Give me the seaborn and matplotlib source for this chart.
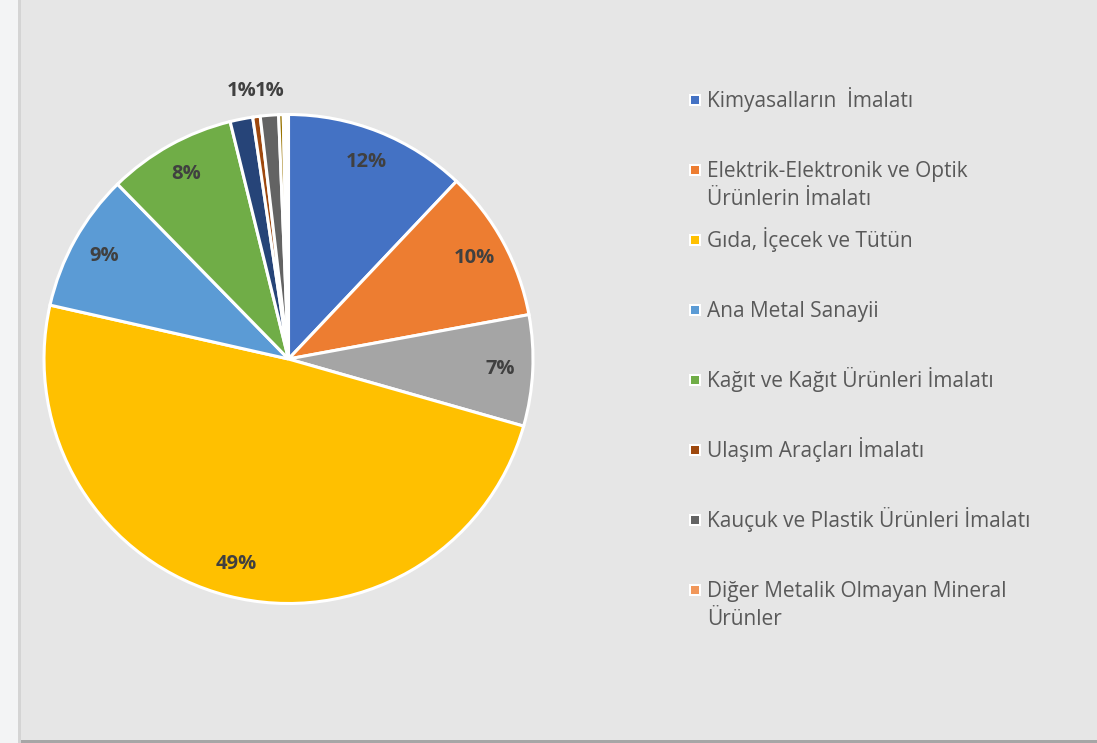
import matplotlib
matplotlib.use("Agg")
import matplotlib.pyplot as plt
from matplotlib.patches import Rectangle
import numpy as np
import seaborn as sns

# Sector shares (%) in drawing order, clockwise from 12 o'clock
slice_values = [12.0, 10.0, 7.3, 48.9, 9.1, 8.45, 1.49, 0.49, 1.2, 0.3, 0.08, 0.08, 0.08, 0.1]
slice_colors = ["#4472C4", "#ED7D31", "#A5A5A5", "#FFC000", "#5B9BD5", "#70AD47",
                "#264478", "#9E480E", "#636363", "#997300", "#255E91", "#43682B",
                "#698ED0", "#F1975A"]

# Legend entries
legend_labels = [
    "Kimyasalların  İmalatı",
    "Elektrik-Elektronik ve Optik\nÜrünlerin İmalatı",
    "Gıda, İçecek ve Tütün",
    "Ana Metal Sanayii",
    "Kağıt ve Kağıt Ürünleri İmalatı",
    "Ulaşım Araçları İmalatı",
    "Kauçuk ve Plastik Ürünleri İmalatı",
    "Diğer Metalik Olmayan Mineral\nÜrünler",
]
legend_colors = ["#4472C4", "#ED7D31", "#FFC000", "#5B9BD5", "#70AD47",
                 "#9E480E", "#636363", "#F1975A"]

sns.set_theme(style="white")
plt.rcParams["font.family"] = ["Open Sans", "DejaVu Sans"]

W, H = 1097, 743
fig = plt.figure(figsize=(W / 100, H / 100), dpi=100)
fig.patch.set_facecolor("#F3F4F5")

# chart panel (behind everything)
for rect in [((18 / W, 0), 4 / W, 1, "#D4D4D4"),
             ((21 / W, 3 / H), 1, 1, "#E6E6E6"),
             ((21 / W, 0), 1, 3 / H, "#A6A6A6")]:
    fig.patches.append(Rectangle(rect[0], rect[1], rect[2], transform=fig.transFigure,
                                 facecolor=rect[3], edgecolor="none", zorder=-5))

# pie axes: centre (288.5, 359) px, radius 244.5 px
cx, cy, r = 288.5, 359, 244.5
ax = fig.add_axes([(cx - r) / W, (H - cy - r) / H, 2 * r / W, 2 * r / H])
ax.set_zorder(2)

wedges, _ = ax.pie(slice_values, colors=slice_colors, startangle=90, counterclock=False,
                   radius=1.0, wedgeprops=dict(edgecolor="white", linewidth=2.2),
                   normalize=True, frame=True)
ax.set_xlim(-1, 1)
ax.set_ylim(-1, 1)
ax.axis("off")
for w in wedges:
    w.set_clip_on(False)

total = sum(slice_values)
label_kw = dict(ha="center", va="center", fontsize=14.5, fontweight="bold", color="#404040")
cum = 0.0
for v in slice_values:
    mid = 90 - 360 * (cum + v / 2) / total
    cum += v
    pct = round(100 * v / total)
    if pct < 1:
        continue
    th = np.deg2rad(mid)
    if pct >= 5:
        ax.text(0.865 * np.cos(th), 0.865 * np.sin(th), f"{pct}%", **label_kw)
    else:
        ax.text(np.cos(th), 1.095, f"{pct}%", clip_on=False, **label_kw)

# legend
y0, dy, line_h = 107, 70, 28
for i, (lab, col) in enumerate(zip(legend_labels, legend_colors)):
    yb = y0 + dy * i
    fig.patches.append(Rectangle((689 / W, 1 - (yb - 1) / H), 12 / W, 12 / H,
                                 transform=fig.transFigure, facecolor="white",
                                 edgecolor="none", zorder=3))
    fig.patches.append(Rectangle((691 / W, 1 - (yb - 3) / H), 8 / W, 8 / H,
                                 transform=fig.transFigure, facecolor=col,
                                 edgecolor="none", zorder=4))
    for k, line in enumerate(lab.split("\n")):
        fig.text(707 / W, 1 - (yb + k * line_h) / H, line, ha="left", va="baseline",
                 fontsize=15, color="#595959")

fig.savefig("out.png", dpi=100, facecolor=fig.get_facecolor())
